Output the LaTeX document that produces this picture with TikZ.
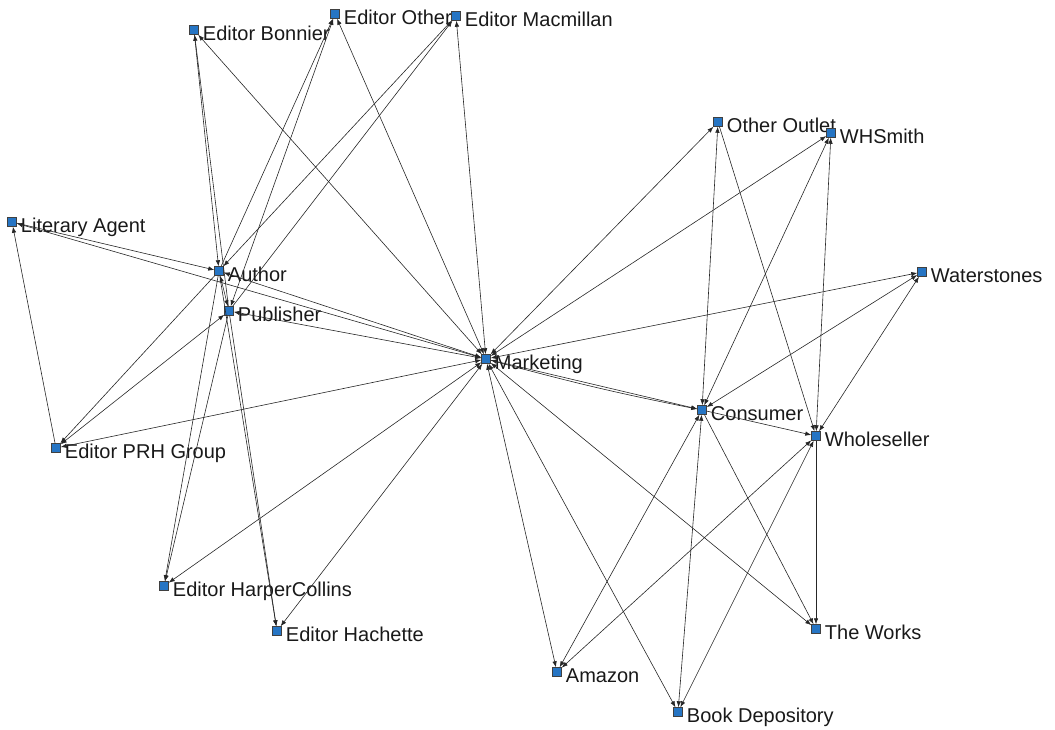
\documentclass[tikz,border=0pt]{standalone}
\usepackage{fontspec}
\setmainfont{Liberation Sans}
\usepackage{tikz}
\usetikzlibrary{
    arrows.meta
}
\definecolor{actorblue}{RGB}{38,117,196}

\begin{document}
\begin{tikzpicture}[
    x=1pt, y=-1pt,
    every node/.style={font=\fontsize{20}{22}\selectfont},
    actor/.style={rectangle, draw=black!75, fill=actorblue, line width=0.5pt, minimum size=9pt, inner sep=0pt},
    lbl/.style={anchor=base west, inner sep=1pt, xshift=3pt, yshift=-10pt, text=black!90},
    tie/.style={-{Latex[length=6pt,width=4.5pt]}, black!85, line width=0.6pt},
    both/.style={tie, {Latex[length=6pt,width=4.5pt]}-{Latex[length=6pt,width=4.5pt]}}
]
\useasboundingbox (0,0) rectangle (1055,729);

% ================= EDITORS / AUTHOR =================
\node[actor, label={[lbl]right:Editor Bonnier}] (bonnier) at (194,30) {};
\node[actor, label={[lbl]right:Editor Other}] (other) at (335,14) {};
\node[actor, label={[lbl]right:Editor Macmillan}] (macmillan) at (456,16) {};
\node[actor, label={[lbl]right:Literary Agent}] (agent) at (12,222) {};
\node[actor, label={[lbl]right:Author}] (author) at (219,271) {};
\node[actor, label={[lbl]right:Publisher}] (publisher) at (229,311) {};
\node[actor, label={[lbl]right:Editor PRH Group}] (prh) at (56,448) {};
\node[actor, label={[lbl]right:Editor HarperCollins}] (harper) at (164,586) {};
\node[actor, label={[lbl]right:Editor Hachette}] (hachette) at (277,631) {};

% ================= MARKETING =================
\node[actor, label={[lbl]right:Marketing}] (marketing) at (486,359) {};

% ================= OUTLETS =================
\node[actor, label={[lbl]right:Other Outlet}] (outlet) at (718,122) {};
\node[actor, label={[lbl]right:WHSmith}] (whsmith) at (831,133) {};
\node[actor, label={[lbl]right:Waterstones}] (waterstones) at (922,272) {};
\node[actor, label={[lbl]right:Consumer}] (consumer) at (702,410) {};
\node[actor, label={[lbl]right:Wholeseller}] (wholeseller) at (816,436) {};
\node[actor, label={[lbl]right:The Works}] (works) at (816,629) {};
\node[actor, label={[lbl]right:Amazon}] (amazon) at (557,672) {};
\node[actor, label={[lbl]right:Book Depository}] (bookdep) at (678,712) {};

% ================= TIES: LEFT =================
\draw[tie] (agent) -- (author);
\draw[both] (marketing) -- (agent);
\draw[tie] (prh) -- (agent);
\draw[tie] (author) -- (prh);
\draw[both] (publisher) -- (prh);
\draw[both] (marketing) -- (prh);
\draw[both] (author) -- (publisher);

\draw[tie] (author) -- (harper);
\draw[tie] (publisher) -- (harper);
\draw[both] (marketing) -- (harper);
\draw[tie] (author) -- (hachette);
\draw[tie] (publisher) -- (hachette);
\draw[both] (marketing) -- (hachette);

\draw[tie] (bonnier) -- (author);
\draw[tie] (publisher) -- (bonnier);
\draw[both] (marketing) -- (bonnier);
\draw[tie] (author) -- (other);
\draw[both] (publisher) -- (other);
\draw[both] (marketing) -- (other);
\draw[both] (author) -- (macmillan);
\draw[tie] (publisher) -- (macmillan);
\draw[both] (marketing) -- (macmillan);

\draw[both] (author) -- (marketing);
\draw[both] (publisher) -- (marketing);

% ================= TIES: RIGHT =================
\draw[both] (marketing) -- (outlet);
\draw[both] (marketing) -- (whsmith);
\draw[both] (marketing) -- (waterstones);
\draw[both] (marketing) -- (consumer);
\draw[tie] (marketing) to[bend right=2] (consumer);
\draw[both] (marketing) -- (amazon);
\draw[both] (marketing) -- (bookdep);
\draw[both] (marketing) -- (works);

\draw[both] (consumer) -- (outlet);
\draw[tie] (outlet) -- (wholeseller);
\draw[both] (consumer) -- (whsmith);
\draw[both] (wholeseller) -- (whsmith);
\draw[both] (consumer) -- (waterstones);
\draw[both] (wholeseller) -- (waterstones);
\draw[tie] (consumer) -- (wholeseller);

\draw[both] (consumer) -- (amazon);
\draw[both] (consumer) -- (bookdep);
\draw[tie] (consumer) -- (works);
\draw[both] (wholeseller) -- (amazon);
\draw[both] (wholeseller) -- (bookdep);
\draw[tie] (wholeseller) -- (works);

\end{tikzpicture}
\end{document}
